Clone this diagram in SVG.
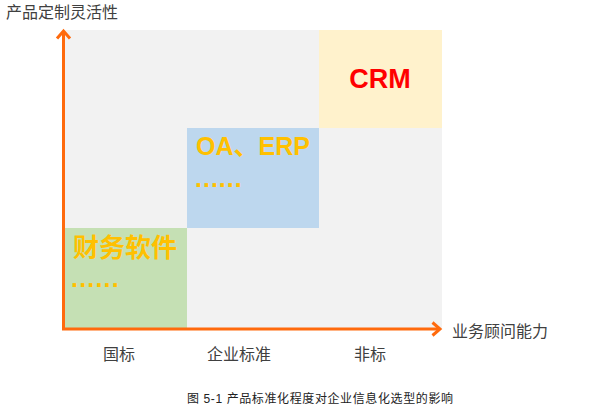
<svg xmlns="http://www.w3.org/2000/svg" width="600" height="411" viewBox="0 0 600 411">
<style>
.lbl{font-family:"Liberation Sans","Noto Sans CJK SC",sans-serif;fill:#404040;font-size:16px}
.big{font-family:"Liberation Sans","Noto Sans CJK SC",sans-serif;font-weight:bold;fill:#FFC000}
.axis{stroke:#FF6A0D;stroke-width:3;fill:none;stroke-linejoin:miter}
</style>
<rect x="0" y="0" width="600" height="411" fill="#FFFFFF"/>
<g id="plot-area"><rect x="65" y="30" width="377" height="298" fill="#F2F2F2"/></g>
<g id="node-crm">
<rect x="319" y="30" width="123" height="98" fill="#FFF2CC"/>
<text x="380" y="88" text-anchor="middle" font-family="Liberation Sans, sans-serif" font-weight="bold" font-size="27" fill="#FF0000">CRM</text>
</g>
<g id="node-oa-erp">
<rect x="187" y="128" width="132" height="100" fill="#BDD7EE"/>
<text class="big" x="196" y="155" font-size="25" textLength="114" lengthAdjust="spacingAndGlyphs">OA、ERP</text>
<text class="big" x="195" y="187" font-size="25" letter-spacing="1">......</text>
</g>
<g id="node-finance">
<rect x="65" y="228" width="122" height="100" fill="#C5E0B4"/>
<text class="big" x="73" y="257" font-size="26" style="font-weight:600">财务软件</text>
<text class="big" x="71" y="287" font-size="25" letter-spacing="1.2">......</text>
</g>
<g id="connectors">
<path class="axis" d="M63.5,329 V31"/>
<path class="axis" d="M57,38.5 L63.5,31 L70,38.5"/>
<path class="axis" d="M62,329 H440"/>
<path class="axis" d="M432.5,322.5 L440,329 L432.5,335.5"/>
</g>
<g id="axis-labels">
<text class="lbl" x="6" y="18">产品定制灵活性</text>
<text class="lbl" x="452" y="337">业务顾问能力</text>
<text class="lbl" x="103" y="360">国标</text>
<text class="lbl" x="207" y="360">企业标准</text>
<text class="lbl" x="354" y="360">非标</text>
</g>
<g id="caption">
<text x="187" y="403" font-family="Liberation Sans, Noto Sans CJK SC, sans-serif" font-size="12" fill="#222" textLength="266" lengthAdjust="spacing">图 5-1 产品标准化程度对企业信息化选型的影响</text>
</g>
</svg>
